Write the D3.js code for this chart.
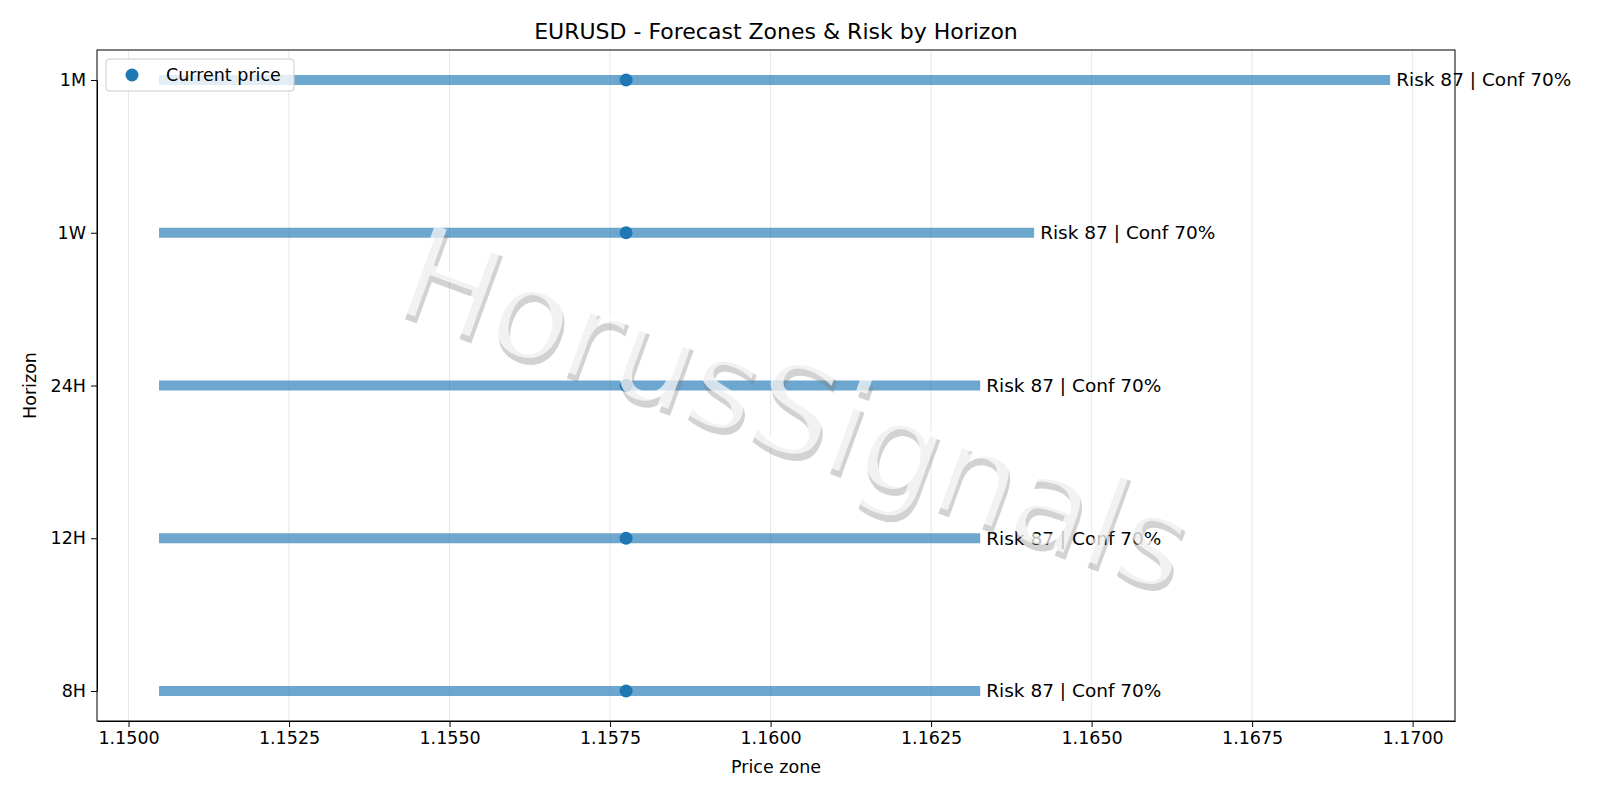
<!DOCTYPE html>
<html><head><meta charset="utf-8">
<script src="https://cdn.jsdelivr.net/npm/d3@7"></script>
<style>
body{margin:0;background:#fff;font-family:"DejaVu Sans",sans-serif}
.axis text{font-size:17.5px;font-family:"DejaVu Sans",sans-serif;fill:#000}
</style></head><body><div class="chart"></div>
<script>
const horizons = ['8H','12H','24H','1W','1M'];
const zoneLow = [1.150475,1.150475,1.150475,1.150475,1.150475];
const zoneHigh = [1.163265,1.163265,1.163265,1.164105,1.16965];
const currentPrice = 1.15775;
const labels = ['Risk 87 | Conf 70%','Risk 87 | Conf 70%','Risk 87 | Conf 70%','Risk 87 | Conf 70%','Risk 87 | Conf 70%'];
const xTicks = [1.15,1.1525,1.155,1.1575,1.16,1.1625,1.165,1.1675,1.17];

const margin = {top:50, right:145, bottom:79, left:97};
const width = 1600 - margin.left - margin.right;
const height = 800 - margin.top - margin.bottom;

const svg = d3.select('.chart').append('svg').attr('width',1600).attr('height',800);
const g = svg.append('g').attr('transform',`translate(${margin.left},${margin.top})`);

const x = d3.scaleLinear().domain([1.149509,1.17066]).range([0,width]);
const y = d3.scalePoint().domain(horizons).range([height-30,30]);

// grid
g.selectAll('.grid').data(xTicks).enter().append('line')
  .attr('x1',d=>x(d)).attr('x2',d=>x(d)).attr('y1',0).attr('y2',height)
  .attr('stroke','#b0b0b0').attr('stroke-opacity',0.3).attr('stroke-width',1);

const data = horizons.map((h,i)=>({h,lo:zoneLow[i],hi:zoneHigh[i],label:labels[i]}));

g.selectAll('.zone').data(data).enter().append('line')
  .attr('x1',d=>x(d.lo)).attr('x2',d=>x(d.hi))
  .attr('y1',d=>y(d.h)).attr('y2',d=>y(d.h))
  .attr('stroke','#1f77b4').attr('stroke-opacity',0.65).attr('stroke-width',10);

g.selectAll('.cur').data(data).enter().append('circle')
  .attr('cx',x(currentPrice)).attr('cy',d=>y(d.h)).attr('r',6.5).attr('fill','#1f77b4');

g.selectAll('.lbl').data(data).enter().append('text')
  .attr('x',d=>x(d.hi)+6).attr('y',d=>y(d.h)).attr('dy','0.35em')
  .style('font-size','18.5px').text(d=>d.label);

// watermark
const wm = g.append('g').attr('transform',`translate(${796-margin.left},${408-margin.top}) rotate(20)`);
wm.append('text').attr('x',4).attr('y',6).attr('text-anchor','middle').attr('dy','0.35em')
  .style('font-size','127px').attr('fill','#7f7f7f').attr('fill-opacity',0.35).text('HorusSignals');
wm.append('text').attr('text-anchor','middle').attr('dy','0.35em')
  .style('font-size','127px').attr('fill','#fff').attr('fill-opacity',0.7).text('HorusSignals');

g.append('g').attr('class','axis').attr('transform',`translate(0,${height})`)
  .call(d3.axisBottom(x).tickValues(xTicks).tickFormat(d3.format('.4f')).tickSizeOuter(0).tickPadding(5));
g.append('g').attr('class','axis').call(d3.axisLeft(y).tickSizeOuter(0).tickPadding(5));
g.append('rect').attr('width',width).attr('height',height).attr('fill','none').attr('stroke','#000');

svg.append('text').attr('x',margin.left+width/2).attr('y',39).attr('text-anchor','middle')
  .style('font-size','22px').text('EURUSD - Forecast Zones & Risk by Horizon');
svg.append('text').attr('x',margin.left+width/2).attr('y',773).attr('text-anchor','middle')
  .style('font-size','17.5px').text('Price zone');
svg.append('text').attr('transform',`translate(36,${margin.top+height/2}) rotate(-90)`).attr('text-anchor','middle')
  .style('font-size','17.5px').text('Horizon');

// legend
const lg = svg.append('g').attr('transform','translate(106,59)');
lg.append('rect').attr('width',188).attr('height',32).attr('rx',3).attr('fill','#fff').attr('fill-opacity',0.8).attr('stroke','#ccc');
lg.append('circle').attr('cx',26).attr('cy',16).attr('r',6.5).attr('fill','#1f77b4');
lg.append('text').attr('x',60).attr('y',16).attr('dy','0.35em').style('font-size','17.5px').text('Current price');
</script></body></html>
